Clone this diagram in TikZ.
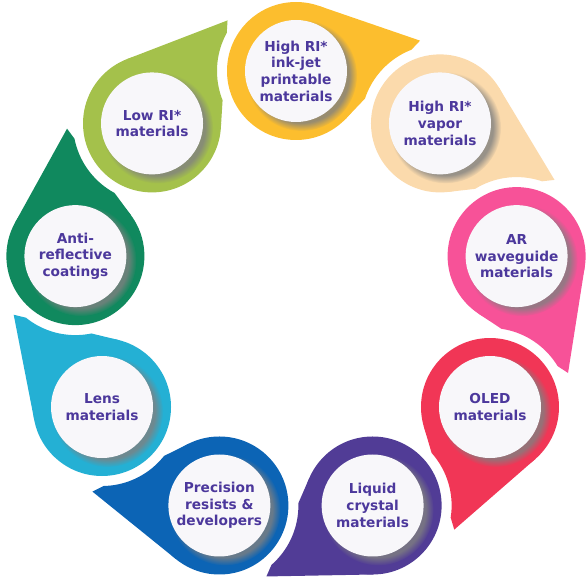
\documentclass[tikz,border=0pt]{standalone}
\usepackage{fontspec}
\setsansfont{DejaVu Sans}
\usetikzlibrary{calc,shadows}
\definecolor{lowricol}{RGB}{164,193,75}
\definecolor{inkjetcol}{RGB}{252,190,46}
\definecolor{vaporcol}{RGB}{251,218,172}
\definecolor{guidecol}{RGB}{247,82,152}
\definecolor{oledcol}{RGB}{241,54,86}
\definecolor{lccol}{RGB}{81,60,150}
\definecolor{resistcol}{RGB}{12,100,181}
\definecolor{lenscol}{RGB}{36,176,212}
\definecolor{anticol}{RGB}{16,137,94}
\definecolor{labelcol}{RGB}{76,56,156}
\definecolor{paper}{RGB}{248,247,250}
\begin{document}
\begin{tikzpicture}[x=1pt,y=1pt,
  ring/.style={circle,minimum size=138pt,inner sep=0pt,outer sep=0pt},
  disc/.style={circle,minimum size=102pt,inner sep=0pt,fill=paper,align=center,text=labelcol,
    font=\sffamily\bfseries\fontsize{13.7}{16.7}\selectfont,
    circular drop shadow={shadow xshift=5pt,shadow yshift=-4pt,shadow scale=1.09,opacity=0.8}},
  cut/.style={even odd rule}]
\useasboundingbox (-296,-283) rectangle (292,295);
\node[ring,fill=lowricol] (lowri) at (130:224) {};
\node[ring,fill=inkjetcol] (inkjet) at (90:224) {};
\node[ring,fill=vaporcol] (vapor) at (50:224) {};
\node[ring,fill=guidecol] (guide) at (10:224) {};
\node[ring,fill=oledcol] (oled) at (-30:224) {};
\node[ring,fill=lccol] (lcryst) at (-70:224) {};
\node[ring,fill=resistcol] (resist) at (-110:224) {};
\node[ring,fill=lenscol] (lens) at (-150:224) {};
\node[ring,fill=anticol] (antiref) at (170:224) {};
\coordinate (lowri-tip) at (104:283);
\coordinate (inkjet-tip) at (64:283);
\coordinate (vapor-tip) at (24:283);
\coordinate (guide-tip) at (-16:283);
\coordinate (oled-tip) at (-56:283);
\coordinate (lcryst-tip) at (-96:283);
\coordinate (resist-tip) at (-136:283);
\coordinate (lens-tip) at (-176:283);
\coordinate (antiref-tip) at (144:283);
\begin{scope}[cut]
\clip (-300,-300) -- (-300,300) -- (300,300) -- (300,-300) -- cycle (inkjet.center) circle (79pt);
\fill[lowricol] (lowri-tip) -- (tangent cs:node=lowri,point={(lowri-tip)},solution=1) -- (lowri.center) -- (tangent cs:node=lowri,point={(lowri-tip)},solution=2) -- cycle;
\end{scope}
\begin{scope}[cut]
\clip (-300,-300) -- (-300,300) -- (300,300) -- (300,-300) -- cycle (vapor.center) circle (79pt);
\fill[inkjetcol] (inkjet-tip) -- (tangent cs:node=inkjet,point={(inkjet-tip)},solution=1) -- (inkjet.center) -- (tangent cs:node=inkjet,point={(inkjet-tip)},solution=2) -- cycle;
\end{scope}
\begin{scope}[cut]
\clip (-300,-300) -- (-300,300) -- (300,300) -- (300,-300) -- cycle (guide.center) circle (79pt);
\fill[vaporcol] (vapor-tip) -- (tangent cs:node=vapor,point={(vapor-tip)},solution=1) -- (vapor.center) -- (tangent cs:node=vapor,point={(vapor-tip)},solution=2) -- cycle;
\end{scope}
\begin{scope}[cut]
\clip (-300,-300) -- (-300,300) -- (300,300) -- (300,-300) -- cycle (oled.center) circle (79pt);
\fill[guidecol] (guide-tip) -- (tangent cs:node=guide,point={(guide-tip)},solution=1) -- (guide.center) -- (tangent cs:node=guide,point={(guide-tip)},solution=2) -- cycle;
\end{scope}
\begin{scope}[cut]
\clip (-300,-300) -- (-300,300) -- (300,300) -- (300,-300) -- cycle (lcryst.center) circle (79pt);
\fill[oledcol] (oled-tip) -- (tangent cs:node=oled,point={(oled-tip)},solution=1) -- (oled.center) -- (tangent cs:node=oled,point={(oled-tip)},solution=2) -- cycle;
\end{scope}
\begin{scope}[cut]
\clip (-300,-300) -- (-300,300) -- (300,300) -- (300,-300) -- cycle (resist.center) circle (79pt);
\fill[lccol] (lcryst-tip) -- (tangent cs:node=lcryst,point={(lcryst-tip)},solution=1) -- (lcryst.center) -- (tangent cs:node=lcryst,point={(lcryst-tip)},solution=2) -- cycle;
\end{scope}
\begin{scope}[cut]
\clip (-300,-300) -- (-300,300) -- (300,300) -- (300,-300) -- cycle (lens.center) circle (79pt);
\fill[resistcol] (resist-tip) -- (tangent cs:node=resist,point={(resist-tip)},solution=1) -- (resist.center) -- (tangent cs:node=resist,point={(resist-tip)},solution=2) -- cycle;
\end{scope}
\begin{scope}[cut]
\clip (-300,-300) -- (-300,300) -- (300,300) -- (300,-300) -- cycle (antiref.center) circle (79pt);
\fill[lenscol] (lens-tip) -- (tangent cs:node=lens,point={(lens-tip)},solution=1) -- (lens.center) -- (tangent cs:node=lens,point={(lens-tip)},solution=2) -- cycle;
\end{scope}
\begin{scope}[cut]
\clip (-300,-300) -- (-300,300) -- (300,300) -- (300,-300) -- cycle (lowri.center) circle (79pt);
\fill[anticol] (antiref-tip) -- (tangent cs:node=antiref,point={(antiref-tip)},solution=1) -- (antiref.center) -- (tangent cs:node=antiref,point={(antiref-tip)},solution=2) -- cycle;
\end{scope}
\node[disc] (lowri-txt) at (lowri) {Low RI*\\materials};
\node[disc] (inkjet-txt) at (inkjet) {High RI*\\ink-jet\\printable\\materials};
\node[disc] (vapor-txt) at (vapor) {High RI*\\vapor\\materials};
\node[disc] (guide-txt) at (guide) {AR\\waveguide\\materials};
\node[disc] (oled-txt) at (oled) {OLED\\materials};
\node[disc] (lcryst-txt) at (lcryst) {Liquid\\crystal\\materials};
\node[disc] (resist-txt) at (resist) {Precision\\resists \&\\developers};
\node[disc] (lens-txt) at (lens) {Lens\\materials};
\node[disc] (antiref-txt) at (antiref) {Anti-\\reflective\\coatings};
\end{tikzpicture}
\end{document}
